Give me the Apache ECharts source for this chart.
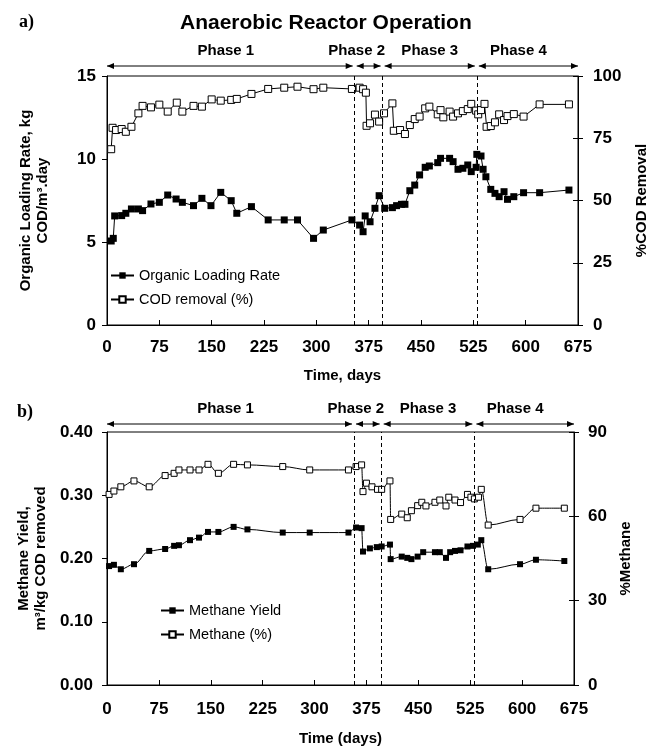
<!DOCTYPE html>
<html>
<head>
<meta charset="utf-8">
<script src="https://cdn.jsdelivr.net/npm/echarts@6/dist/echarts.min.js"></script>
<style>
  html, body { margin: 0; padding: 0; background: #fff; }
  #chart { width: 650px; height: 748px; }
</style>
</head>
<body>
<div id="chart"></div>
<script>
// ---- data ----
// a) organic loading rate (kg COD/m3.day) and COD removal (%)
var olrDays = [6, 9, 11, 21, 27, 35, 45, 51, 63, 75, 87, 99, 108, 124, 136, 149, 163, 178, 186, 207, 231, 254, 273, 296, 310, 351, 362, 367, 370, 377, 384, 390, 398, 409, 415, 422, 427, 434, 441, 448, 456, 462, 474, 478, 491, 496, 503, 510, 517, 522, 529, 530, 536, 539, 543, 550, 556, 562, 569, 574, 583, 597, 620, 662];
var olrValues = [5.06, 5.22, 6.57, 6.59, 6.73, 6.99, 6.99, 6.89, 7.29, 7.39, 7.83, 7.59, 7.39, 7.19, 7.63, 7.19, 7.99, 7.49, 6.73, 7.13, 6.33, 6.33, 6.33, 5.22, 5.72, 6.33, 6.02, 5.62, 6.57, 6.22, 7.03, 7.79, 7.03, 7.07, 7.19, 7.27, 7.27, 8.09, 8.43, 9.04, 9.5, 9.58, 9.78, 10.04, 10.04, 9.84, 9.38, 9.44, 9.64, 9.24, 9.5, 10.28, 10.18, 9.38, 8.93, 8.17, 7.93, 7.73, 8.03, 7.57, 7.73, 7.97, 7.97, 8.13];
var codDays = [6, 8, 13, 21, 27, 35, 45, 51, 63, 75, 87, 100, 108, 124, 136, 150, 163, 178, 186, 207, 231, 254, 273, 296, 310, 351, 362, 367, 371, 372, 377, 384, 390, 397, 409, 411, 420, 427, 434, 441, 448, 456, 462, 474, 478, 482, 491, 496, 503, 510, 517, 522, 529, 532, 536, 541, 544, 550, 556, 562, 569, 574, 583, 597, 620, 662];
var codValues = [70.6, 79.2, 78.3, 78.7, 77.6, 79.6, 85, 88, 87.4, 88.5, 85.7, 89.3, 85.7, 88, 87.7, 90.6, 90.1, 90.4, 90.8, 92.8, 94.8, 95.3, 95.7, 94.7, 95.3, 94.8, 95.3, 94.7, 93.3, 80, 81, 84.5, 81.7, 85, 89, 78, 78.3, 76.7, 80.3, 82.7, 83.7, 87, 87.7, 84.6, 86.3, 83.4, 85.7, 83.7, 85, 85.9, 86.7, 88.8, 86.1, 84.6, 86.3, 88.8, 79.6, 79.9, 81.4, 84.6, 82.3, 83.9, 84.7, 83.7, 88.6, 88.6];
var phasesA = [0, 355, 395, 530, 675];

// b) methane yield (m3/kg COD removed) and methane (%)
var yieldDays = [3, 10, 20, 39, 61, 84, 97, 104, 120, 133, 146, 161, 183, 203, 254, 293, 349, 360, 368, 370, 380, 390, 397, 409, 410, 426, 434, 440, 449, 457, 474, 481, 490, 496, 503, 511, 521, 529, 536, 541, 551, 597, 620, 661];
var yieldValues = [0.188, 0.190, 0.183, 0.191, 0.212, 0.215, 0.220, 0.221, 0.229, 0.233, 0.242, 0.242, 0.250, 0.246, 0.241, 0.241, 0.241, 0.249, 0.248, 0.211, 0.216, 0.218, 0.219, 0.222, 0.199, 0.203, 0.201, 0.199, 0.203, 0.210, 0.210, 0.210, 0.201, 0.210, 0.212, 0.213, 0.219, 0.220, 0.222, 0.229, 0.183, 0.191, 0.198, 0.196];
var methDays = [3, 10, 20, 39, 61, 84, 97, 104, 120, 133, 146, 161, 183, 203, 254, 293, 349, 360, 368, 370, 375, 383, 391, 397, 409, 410, 426, 434, 440, 449, 455, 461, 474, 481, 490, 494, 503, 511, 521, 526, 531, 537, 541, 551, 597, 620, 661];
var methValues = [67.8, 69, 70.5, 72.6, 70.5, 74.5, 75.3, 76.5, 76.5, 76.5, 78.5, 75.3, 78.5, 78.3, 77.7, 76.5, 76.5, 77.7, 78.3, 68.8, 71.8, 70.5, 69.6, 69.6, 72.6, 58.9, 60.8, 59.5, 62, 63.8, 65, 63.7, 65, 65.8, 63.7, 66.8, 65.8, 64.9, 67.8, 66.8, 66.2, 66.8, 69.6, 56.9, 58.9, 62.9, 62.9];
var phasesB = [0, 357, 397, 531, 675];

var phaseNames = ['Phase 1', 'Phase 2', 'Phase 3', 'Phase 4'];

function pairs(xs, ys) {
  var out = [];
  for (var i = 0; i < xs.length; i++) out.push([xs[i], ys[i]]);
  return out;
}

var FONT = '"Liberation Sans", Arial, Helvetica, sans-serif';
var black = '#000';

function xAxisCfg(grid, name, gap, margin) {
  return {
    gridIndex: grid, type: 'value', min: 0, max: 675, interval: 75,
    axisLine: { lineStyle: { color: black, width: 1 } },
    axisTick: { inside: true, length: 5, lineStyle: { color: black } },
    axisLabel: { color: black, fontFamily: FONT, fontWeight: 'bold', fontSize: 17, margin: margin },
    splitLine: { show: false },
    name: name, nameLocation: 'middle', nameGap: gap,
    nameTextStyle: { color: black, fontFamily: FONT, fontWeight: 'bold', fontSize: 15 }
  };
}

function yAxisCfg(grid, pos, max, step, name, gap, margin, fmt) {
  return {
    gridIndex: grid, type: 'value', position: pos, min: 0, max: max, interval: step,
    axisLine: { show: true, lineStyle: { color: black, width: 1 } },
    axisTick: { show: true, length: 5, lineStyle: { color: black } },
    axisLabel: { color: black, fontFamily: FONT, fontWeight: 'bold', fontSize: 17, margin: margin, formatter: fmt },
    splitLine: { show: false },
    name: name, nameLocation: 'middle', nameGap: gap, nameRotate: 90,
    nameTextStyle: { color: black, fontFamily: FONT, fontWeight: 'bold', fontSize: 15, lineHeight: 17, align: 'center' }
  };
}

// inner half of the right-hand ticks (they cross the axis line)
function innerTicks(grid, max, step) {
  return {
    gridIndex: grid, type: 'value', position: 'right', min: 0, max: max, interval: step,
    axisLine: { show: false }, axisLabel: { show: false }, splitLine: { show: false },
    axisTick: { show: true, inside: true, length: 5, lineStyle: { color: black } }
  };
}

function dashed(bounds) {
  return {
    silent: true, symbol: 'none', label: { show: false },
    lineStyle: { color: black, type: [4, 3], width: 1 },
    data: bounds.slice(1, 4).map(function (d) { return { xAxis: d }; })
  };
}

var chart = echarts.init(document.getElementById('chart'));
var option = {
  animation: false,
  backgroundColor: '#fff',
  title: {
    text: 'Anaerobic Reactor Operation', left: 175, top: 8,
    textStyle: { color: black, fontFamily: FONT, fontWeight: 'bold', fontSize: 21 }
  },
  grid: [
    { left: 107, top: 76, width: 471, height: 249, outerBoundsMode: 'none', show: true, borderColor: black, borderWidth: 1, backgroundColor: 'transparent' },
    { left: 107, top: 432, width: 467, height: 253, outerBoundsMode: 'none', show: true, borderColor: black, borderWidth: 1, backgroundColor: 'transparent' }
  ],
  legend: [
    {
      orient: 'vertical', left: 105, top: 263, itemWidth: 23, itemHeight: 8, itemGap: 9,
      data: ['Organic Loading Rate', 'COD removal (%)'],
      textStyle: { color: black, fontFamily: FONT, fontSize: 14.5 }
    },
    {
      orient: 'vertical', left: 155, top: 598, itemWidth: 23, itemHeight: 8, itemGap: 9,
      data: ['Methane Yield', 'Methane (%)'],
      textStyle: { color: black, fontFamily: FONT, fontSize: 14.5 }
    }
  ],
  xAxis: [
    xAxisCfg(0, 'Time, days', 43, 14),
    xAxisCfg(1, 'Time (days)', 46, 16)
  ],
  yAxis: [
    yAxisCfg(0, 'left', 15, 5, 'Organic Loading Rate, kg\nCOD/m³.day', 56, 11),
    yAxisCfg(0, 'right', 100, 25, '%COD Removal', 55, 15),
    yAxisCfg(1, 'left', 0.4, 0.1, 'Methane Yield,\nm³/kg COD removed', 56, 14, function (v) { return v.toFixed(2); }),
    yAxisCfg(1, 'right', 90, 30, '%Methane', 42, 14),
    innerTicks(0, 100, 25),
    innerTicks(1, 90, 30)
  ],
  series: [
    {
      name: 'Organic Loading Rate', type: 'line', xAxisIndex: 0, yAxisIndex: 0,
      data: pairs(olrDays, olrValues), symbol: 'rect', symbolSize: 7,
      itemStyle: { color: black }, lineStyle: { color: black, width: 1 },
      markLine: dashed(phasesA), z: 3
    },
    {
      name: 'COD removal (%)', type: 'line', xAxisIndex: 0, yAxisIndex: 1,
      data: pairs(codDays, codValues), symbol: 'rect', symbolSize: 7,
      itemStyle: { color: '#fff', borderColor: black, borderWidth: 1 }, lineStyle: { color: black, width: 1 }, z: 3
    },
    {
      name: 'Methane Yield', type: 'line', xAxisIndex: 1, yAxisIndex: 2,
      data: pairs(yieldDays, yieldValues), symbol: 'rect', symbolSize: 6,
      smooth: 0.35, smoothMonotone: 'x',
      itemStyle: { color: black }, lineStyle: { color: black, width: 1 },
      markLine: dashed(phasesB), z: 3
    },
    {
      name: 'Methane (%)', type: 'line', xAxisIndex: 1, yAxisIndex: 3,
      data: pairs(methDays, methValues), symbol: 'rect', symbolSize: 6,
      smooth: 0.35, smoothMonotone: 'x',
      itemStyle: { color: '#fff', borderColor: black, borderWidth: 1 }, lineStyle: { color: black, width: 1 }, z: 3
    }
  ]
};
chart.setOption(option);

// phase arrows above each plot, placed through the x axes
var labelShift = [-4, -12, 0, -10];
function phaseGraphics(axisIdx, bounds, arrowY) {
  var els = [];
  for (var i = 0; i < 4; i++) {
    var x1 = chart.convertToPixel({ xAxisIndex: axisIdx }, bounds[i]) + (i > 0 ? 2 : 0);
    var x2 = chart.convertToPixel({ xAxisIndex: axisIdx }, bounds[i + 1]) - (i < 3 ? 2 : 0);
    els.push({ type: 'line', shape: { x1: x1, y1: arrowY, x2: x2, y2: arrowY }, style: { stroke: black, lineWidth: 1 } });
    els.push({ type: 'polygon', shape: { points: [[x1, arrowY], [x1 + 7, arrowY - 3], [x1 + 7, arrowY + 3]] }, style: { fill: black } });
    els.push({ type: 'polygon', shape: { points: [[x2, arrowY], [x2 - 7, arrowY - 3], [x2 - 7, arrowY + 3]] }, style: { fill: black } });
    els.push({
      type: 'text', x: (x1 + x2) / 2 + labelShift[i], y: arrowY - 15,
      style: { text: phaseNames[i], fill: black, font: 'bold 15px ' + FONT, textAlign: 'center', textVerticalAlign: 'middle' }
    });
  }
  return els;
}

var graphics = [].concat(phaseGraphics(0, phasesA, 66), phaseGraphics(1, phasesB, 424));
graphics.push({ type: 'text', x: 19, y: 22, style: { text: 'a)', fill: black, font: 'bold 18px "Liberation Serif", "Times New Roman", serif', textVerticalAlign: 'middle' } });
graphics.push({ type: 'text', x: 17, y: 412, style: { text: 'b)', fill: black, font: 'bold 18px "Liberation Serif", "Times New Roman", serif', textVerticalAlign: 'middle' } });
chart.setOption({ graphic: graphics });
</script>
</body>
</html>
